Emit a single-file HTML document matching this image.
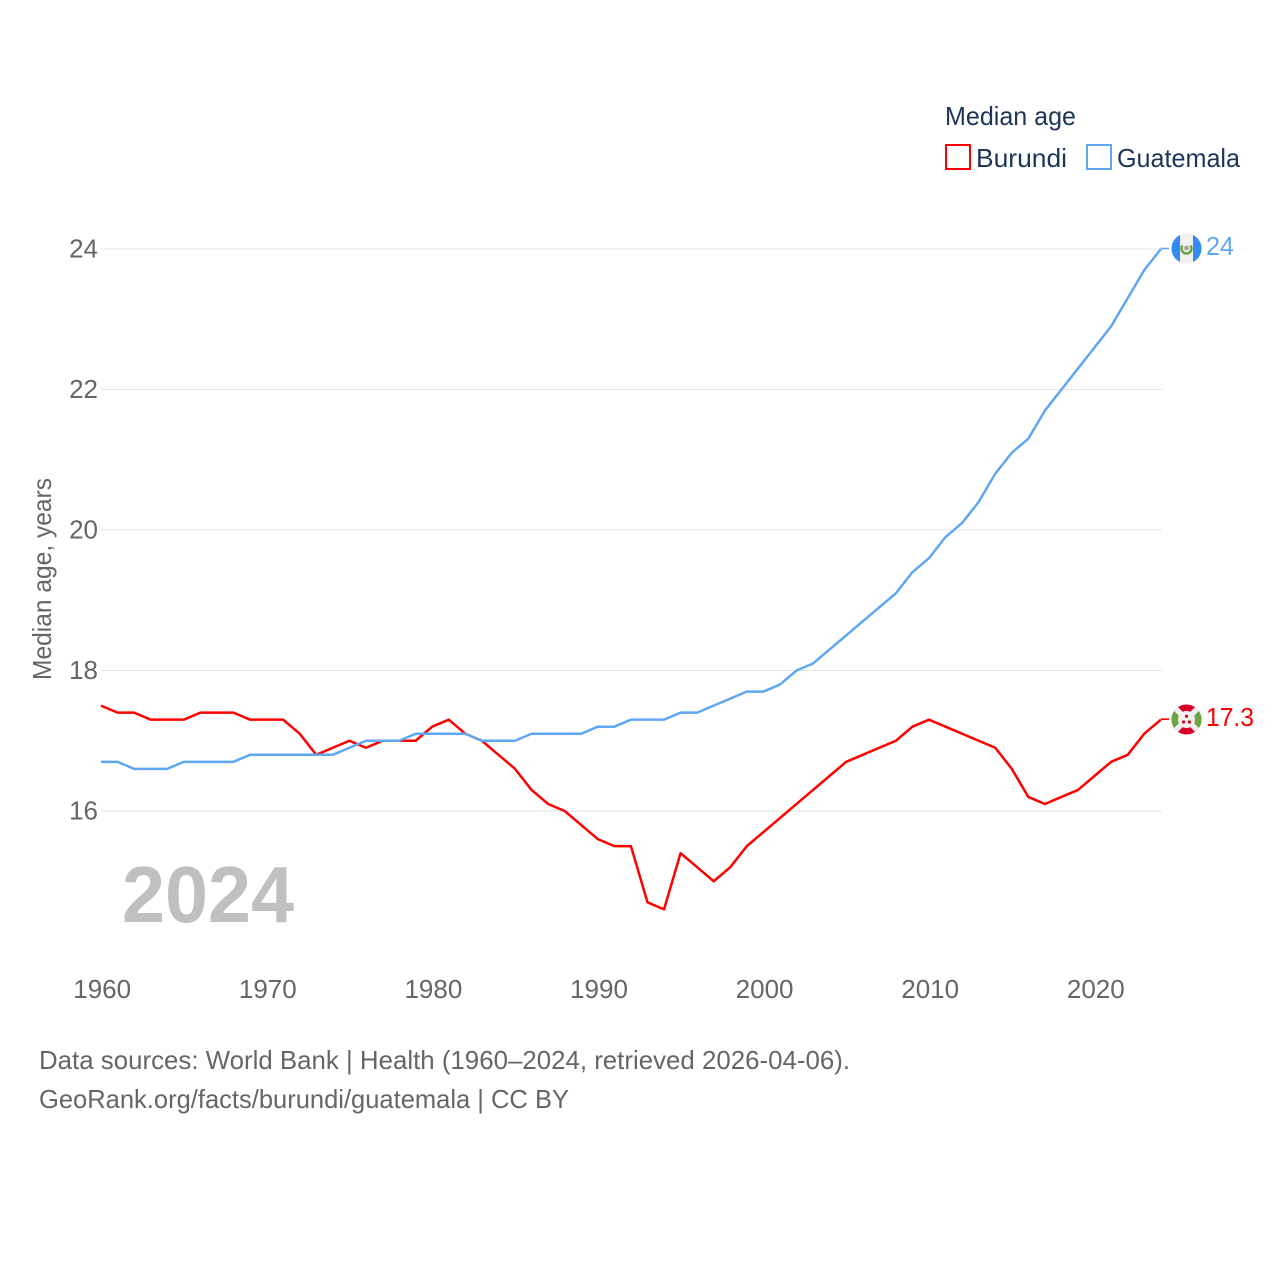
<!DOCTYPE html>
<html lang="en">
<head>
<meta charset="utf-8">
<title>Median age: Burundi and Guatemala</title>
<style>
html,body{margin:0;padding:0;background:#fff;}
svg{display:block;font-family:"Liberation Sans",sans-serif;}
</style>
</head>
<body>
<svg id="chart" width="1280" height="1280" viewBox="0 0 1280 1280" xmlns="http://www.w3.org/2000/svg">
  <defs>
    <clipPath id="flag-clip-g"><circle cx="1186.5" cy="248.5" r="15"/></clipPath>
    <clipPath id="flag-clip-b"><circle cx="1186.5" cy="719.5" r="15"/></clipPath>
  </defs>
  <g id="grid"></g>
  <g id="y-ticks"></g>
  <g id="x-ticks"></g>
  <text transform="translate(51,680) rotate(-90)" font-size="26" fill="#666666" textLength="202" lengthAdjust="spacingAndGlyphs">Median age, years</text>
  <text x="122" y="922" font-size="80" font-weight="bold" fill="#c0c0c0" textLength="172" lengthAdjust="spacingAndGlyphs">2024</text>
  <g id="series"></g>

  <g>
    <text x="945" y="125" font-size="26" fill="#1d3557" textLength="131" lengthAdjust="spacingAndGlyphs">Median age</text>
    <rect x="946" y="145" width="24" height="24" fill="#fff" stroke="#ff0000" stroke-width="2"/>
    <text x="976" y="167" font-size="26" fill="#1d3557" textLength="91" lengthAdjust="spacingAndGlyphs">Burundi</text>
    <rect x="1087" y="145" width="24" height="24" fill="#fff" stroke="#5fa8f0" stroke-width="2"/>
    <text x="1117" y="167" font-size="26" fill="#1d3557" textLength="123" lengthAdjust="spacingAndGlyphs">Guatemala</text>
  </g>

  <g clip-path="url(#flag-clip-g)">
    <rect x="1171" y="233" width="31" height="31" fill="#f0f0f0"/>
    <rect x="1171" y="233" width="9" height="31" fill="#338af3"/>
    <rect x="1193" y="233" width="9" height="31" fill="#338af3"/>
    <path d="M1182.5 245.5 A5 5 0 1 0 1190.5 245.5" fill="none" stroke="#6da544" stroke-width="2.4"/>
    <circle cx="1186.5" cy="248" r="2.4" fill="#a8a890"/>
  </g>
  <g clip-path="url(#flag-clip-b)">
    <rect x="1171" y="704" width="31" height="31" fill="#d80027"/>
    <polygon points="1171,704 1186.5,719.5 1171,735" fill="#6da544"/>
    <polygon points="1202,704 1186.5,719.5 1202,735" fill="#6da544"/>
    <line x1="1171" y1="704" x2="1202" y2="735" stroke="#f0f0f0" stroke-width="5.5"/>
    <line x1="1202" y1="704" x2="1171" y2="735" stroke="#f0f0f0" stroke-width="5.5"/>
    <circle cx="1186.5" cy="719.5" r="8.5" fill="#f0f0f0"/>
    <circle cx="1186.5" cy="716.2" r="1.6" fill="#d80027"/>
    <circle cx="1183.6" cy="722" r="1.6" fill="#d80027"/>
    <circle cx="1189.4" cy="722" r="1.6" fill="#d80027"/>
  </g>
  <text x="1206" y="255" font-size="26" fill="#5fa8f0" textLength="28" lengthAdjust="spacingAndGlyphs">24</text>
  <text x="1206" y="726" font-size="26" fill="#ff0000" textLength="48" lengthAdjust="spacingAndGlyphs">17.3</text>

  <text x="39" y="1069" font-size="26" fill="#666666" textLength="811" lengthAdjust="spacingAndGlyphs">Data sources: World Bank | Health (1960–2024, retrieved 2026-04-06).</text>
  <text x="39" y="1108" font-size="26" fill="#666666" textLength="530" lengthAdjust="spacingAndGlyphs">GeoRank.org/facts/burundi/guatemala | CC BY</text>
</svg>
<script>
const startYear = 1960;
const yTickValues = [16, 18, 20, 22, 24];
const xTickValues = [1960, 1970, 1980, 1990, 2000, 2010, 2020];
const burundiValues = [
  17.5,17.4,17.4,17.3,17.3,17.3,17.4,17.4,17.4,17.3,
  17.3,17.3,17.1,16.8,16.9,17.0,16.9,17.0,17.0,17.0,
  17.2,17.3,17.1,17.0,16.8,16.6,16.3,16.1,16.0,15.8,
  15.6,15.5,15.5,14.7,14.6,15.4,15.2,15.0,15.2,15.5,
  15.7,15.9,16.1,16.3,16.5,16.7,16.8,16.9,17.0,17.2,
  17.3,17.2,17.1,17.0,16.9,16.6,16.2,16.1,16.2,16.3,
  16.5,16.7,16.8,17.1,17.3
];
const guatemalaValues = [
  16.7,16.7,16.6,16.6,16.6,16.7,16.7,16.7,16.7,16.8,
  16.8,16.8,16.8,16.8,16.8,16.9,17.0,17.0,17.0,17.1,
  17.1,17.1,17.1,17.0,17.0,17.0,17.1,17.1,17.1,17.1,
  17.2,17.2,17.3,17.3,17.3,17.4,17.4,17.5,17.6,17.7,
  17.7,17.8,18.0,18.1,18.3,18.5,18.7,18.9,19.1,19.4,
  19.6,19.9,20.1,20.4,20.8,21.1,21.3,21.7,22.0,22.3,
  22.6,22.9,23.3,23.7,24.0
];

const NS = 'http://www.w3.org/2000/svg';
function xScale(year) { return 101 + (year - startYear) * 16.56; }
function yScale(v) { return 811 - (v - 16) * 70.25; }

const gridGroup = document.getElementById('grid');
const yGroup = document.getElementById('y-ticks');
const xGroup = document.getElementById('x-ticks');
const seriesGroup = document.getElementById('series');

yTickValues.forEach(function (v) {
  const line = document.createElementNS(NS, 'line');
  
  
  line.setAttribute('x1', 101);
  line.setAttribute('x2', 1162);
  line.setAttribute('y1', yScale(v));
  line.setAttribute('y2', yScale(v));
  line.setAttribute('stroke', '#e6e6e6');
  line.setAttribute('stroke-width', 1);
  gridGroup.appendChild(line);

  const label = document.createElementNS(NS, 'text');
  
  
  label.setAttribute('x', 98);
  label.setAttribute('y', yScale(v) + 8.5);
  label.setAttribute('text-anchor', 'end');
  label.setAttribute('font-size', 26);
  label.setAttribute('fill', '#666666');
  label.textContent = String(v);
  yGroup.appendChild(label);
});

xTickValues.forEach(function (year) {
  const label = document.createElementNS(NS, 'text');
  
  
  label.setAttribute('x', xScale(year) + 1.2);
  label.setAttribute('y', 998);
  label.setAttribute('text-anchor', 'middle');
  label.setAttribute('font-size', 26);
  label.setAttribute('fill', '#666666');
  label.textContent = String(year);
  xGroup.appendChild(label);
});

function seriesPoints(values) {
  return values.map(function (v, i) {
    return xScale(startYear + i).toFixed(2) + ',' + yScale(v).toFixed(2);
  }).join(' ');
}

function styleLine(el, color, width) {
  el.setAttribute('fill', 'none');
  el.setAttribute('stroke', color);
  el.setAttribute('stroke-width', width);
  el.setAttribute('stroke-linejoin', 'round');
}

function connector(values, color) {
  const last = values[values.length - 1];
  const line = document.createElementNS(NS, 'line');
  line.setAttribute('x1', xScale(startYear + values.length - 1));
  line.setAttribute('x2', 1169);
  line.setAttribute('y1', yScale(last) - 0.5);
  line.setAttribute('y2', yScale(last) - 0.5);
  styleLine(line, color, 1.6);
  return line;
}

const burundiLine = document.createElementNS(NS, 'polyline');


burundiLine.setAttribute('points', seriesPoints(burundiValues));
styleLine(burundiLine, '#ff0000', 2.5);
seriesGroup.appendChild(burundiLine);

const burundiConnector = connector(burundiValues, '#ff0000');


seriesGroup.appendChild(burundiConnector);

const guatemalaLine = document.createElementNS(NS, 'polyline');


guatemalaLine.setAttribute('points', seriesPoints(guatemalaValues));
styleLine(guatemalaLine, '#5fa8f0', 2.5);
seriesGroup.appendChild(guatemalaLine);

const guatemalaConnector = connector(guatemalaValues, '#5fa8f0');


seriesGroup.appendChild(guatemalaConnector);
</script>
</body>
</html>
